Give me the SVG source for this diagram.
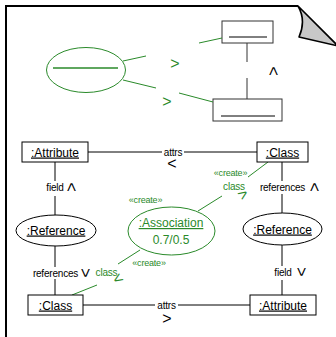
<svg xmlns="http://www.w3.org/2000/svg" width="336" height="337" viewBox="0 0 336 337">
  <style>
    .frame { fill: none; stroke: #000; stroke-width: 2; }
    .curl { fill: #c8c8c8; stroke: #000; stroke-width: 1.6; stroke-linejoin: round; }
    .box { fill: #fff; stroke: #000; stroke-width: 1; }
    .sbox { fill: #fff; stroke: #333; stroke-width: 1; }
    .oval { fill: #fff; stroke: #000; stroke-width: 1; }
    .goval { fill: #fff; stroke: #2a8a2a; stroke-width: 1; }
    .ln { fill: none; stroke: #000; stroke-width: 1; }
    .sln { fill: none; stroke: #333; stroke-width: 1; }
    .gln { fill: none; stroke: #2a8a2a; stroke-width: 1; }
    .name { font-family: "Liberation Sans", Arial, sans-serif; font-size: 12px; text-anchor: middle; text-decoration: underline; fill: #000; }
    .gname { font-family: "Liberation Sans", Arial, sans-serif; font-size: 12px; text-anchor: middle; fill: #2a8a2a; }
    .lbl { font-family: "Liberation Sans", Arial, sans-serif; font-size: 10px; text-anchor: middle; fill: #000; letter-spacing: -0.2px; }
    .glbl { font-family: "Liberation Sans", Arial, sans-serif; font-size: 10px; text-anchor: middle; fill: #2a8a2a; letter-spacing: -0.2px; }
    .stereo { font-family: "Liberation Sans", Arial, sans-serif; font-size: 9px; text-anchor: middle; fill: #2a8a2a; letter-spacing: -0.2px; }
    .dir { font-family: "Liberation Sans", Arial, sans-serif; font-size: 16px; text-anchor: middle; fill: #000; }
    .gdir { font-family: "Liberation Sans", Arial, sans-serif; font-size: 16px; text-anchor: middle; fill: #2a8a2a; }
  </style>

  <!-- note frame with folded corner -->
  <g id="note">
    <path class="frame" d="M6,340 L6,6 L298,6"/>
    <path class="curl" d="M298,6 C305,18 303,28 299,37 L338,46 Z"/>
  </g>

  <!-- small pattern sketch -->
  <g id="sketch-oval">
    <ellipse class="goval" cx="86" cy="70" rx="39.5" ry="22.5"/>
    <line x1="53" y1="68" x2="118" y2="68" stroke="#2a8a2a" stroke-width="1.5"/>
  </g>
  <g id="sketch-top-box">
    <rect class="sbox" x="222" y="21" width="51" height="22"/>
    <line x1="229" y1="37" x2="267" y2="37" stroke="#000" stroke-width="1"/>
  </g>
  <g id="sketch-bottom-box">
    <rect class="sbox" x="213" y="99" width="69" height="22"/>
    <line x1="221" y1="116" x2="275" y2="116" stroke="#000" stroke-width="1"/>
  </g>
  <g id="sketch-connectors">
    <line class="sln" x1="247" y1="43" x2="247" y2="62"/>
    <line class="sln" x1="247" y1="78" x2="247" y2="99"/>
    <text class="dir" transform="translate(273,71) rotate(-90)" x="0" y="5.5">&gt;</text>
    <line class="gln" x1="123" y1="61" x2="146" y2="56"/>
    <line class="gln" x1="199" y1="43" x2="222" y2="38"/>
    <text class="gdir" transform="translate(175,63)" x="0" y="5.5">&gt;</text>
    <line class="gln" x1="123" y1="80" x2="156" y2="88"/>
    <line class="gln" x1="179" y1="93" x2="213" y2="102"/>
    <text class="gdir" transform="translate(167,101)" x="0" y="5.5">&gt;</text>
  </g>

  <!-- links between the objects -->
  <g id="connectors">
    <!-- attrs (top) -->
    <line class="ln" x1="88" y1="152" x2="162" y2="152"/>
    <line class="ln" x1="184" y1="152" x2="257" y2="152"/>
    <text class="lbl" x="173" y="155.5">attrs</text>
    <text class="dir" transform="translate(172,163)" x="0" y="5.5">&lt;</text>

    <!-- field (left) -->
    <line class="ln" x1="55" y1="162" x2="55" y2="181"/>
    <line class="ln" x1="55" y1="196" x2="55" y2="215"/>
    <text class="lbl" x="55" y="190.5">field</text>
    <text class="dir" transform="translate(71,187) rotate(-90)" x="0" y="5.5">&gt;</text>

    <!-- references (right, upper) -->
    <line class="ln" x1="282" y1="162" x2="282" y2="181"/>
    <line class="ln" x1="282" y1="194" x2="282" y2="213"/>
    <text class="lbl" x="282.5" y="190.5">references</text>
    <text class="dir" transform="translate(314,187) rotate(-90)" x="0" y="5.5">&gt;</text>

    <!-- references (left, lower) -->
    <line class="ln" x1="55" y1="246" x2="55" y2="267"/>
    <line class="ln" x1="55" y1="279" x2="55" y2="295"/>
    <text class="lbl" x="55.5" y="276.5">references</text>
    <text class="dir" transform="translate(85.5,273) rotate(90)" x="0" y="5.5">&gt;</text>

    <!-- field (right, lower) -->
    <line class="ln" x1="282" y1="245" x2="282" y2="266"/>
    <line class="ln" x1="282" y1="280" x2="282" y2="295"/>
    <text class="lbl" x="283" y="275.5">field</text>
    <text class="dir" transform="translate(301.5,272) rotate(90)" x="0" y="5.5">&gt;</text>

    <!-- attrs (bottom) -->
    <line class="ln" x1="83" y1="305" x2="155" y2="305"/>
    <line class="ln" x1="178" y1="305" x2="250" y2="305"/>
    <text class="lbl" x="166.5" y="308.5">attrs</text>
    <text class="dir" transform="translate(167,318.5)" x="0" y="5.5">&gt;</text>

    <!-- created class link (upper) -->
    <line class="gln" x1="268" y1="162" x2="248" y2="177"/>
    <line class="gln" x1="222" y1="196" x2="198" y2="211"/>
    <text class="stereo" x="230.5" y="176">«create»</text>
    <text class="glbl" x="234" y="189.5">class</text>
    <text class="gdir" transform="translate(243,194) rotate(-35)" x="0" y="5.5">&gt;</text>

    <!-- created class link (lower) -->
    <line class="gln" x1="140" y1="250" x2="118" y2="264"/>
    <line class="gln" x1="97" y1="285" x2="72" y2="295"/>
    <text class="stereo" x="149" y="266">«create»</text>
    <text class="glbl" x="106.5" y="275.5">class</text>
    <text class="gdir" transform="translate(118,279) rotate(147)" x="0" y="5.5">&gt;</text>
  </g>

  <!-- objects -->
  <g id="attribute-top">
    <rect class="box" x="22" y="142" width="66" height="20"/>
    <text class="name" x="55" y="156.5">:Attribute</text>
  </g>
  <g id="class-top">
    <rect class="box" x="257" y="142" width="51" height="20"/>
    <text class="name" x="282.5" y="156.5">:Class</text>
  </g>
  <g id="reference-left">
    <ellipse class="oval" cx="56" cy="230.5" rx="40" ry="15.5"/>
    <text class="name" x="56" y="234.5">:Reference</text>
  </g>
  <g id="reference-right">
    <ellipse class="oval" cx="282.5" cy="229" rx="39.5" ry="16"/>
    <text class="name" x="282.5" y="233.5">:Reference</text>
  </g>
  <g id="association">
    <ellipse class="goval" cx="171.5" cy="231" rx="43.5" ry="24"/>
    <text class="gname" x="171" y="227" text-decoration="underline">:Association</text>
    <text class="gname" x="171" y="243.5">0.7/0.5</text>
    <text class="stereo" x="145.5" y="203">«create»</text>
  </g>
  <g id="class-bottom">
    <rect class="box" x="28" y="295" width="55" height="20"/>
    <text class="name" x="55.5" y="309.5">:Class</text>
  </g>
  <g id="attribute-bottom">
    <rect class="box" x="250" y="295" width="66" height="20"/>
    <text class="name" x="283" y="309.5">:Attribute</text>
  </g>
</svg>
